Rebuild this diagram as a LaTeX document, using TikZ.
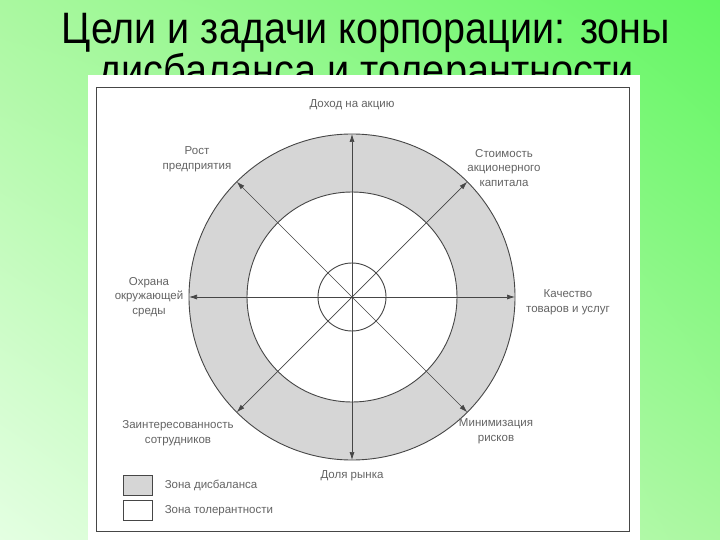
\documentclass[tikz,border=0pt]{standalone}
\usepackage{fontspec}
\setmainfont{Liberation Sans}
\usetikzlibrary{arrows.meta,positioning,shadings}
\definecolor{bgpale}{RGB}{228,255,226}
\definecolor{bgmid}{RGB}{170,248,160}
\definecolor{bgdeep}{RGB}{98,246,98}
\definecolor{zonegray}{RGB}{214,214,214}
\definecolor{inkgray}{RGB}{70,70,70}
\definecolor{textgray}{RGB}{100,100,100}
\tikzset{
  goal/.style={font=\fontsize{11.5}{14.5}\selectfont, text=textgray, align=center, inner sep=0pt},
  ring/.style={circle, draw=inkgray, line width=0.9pt, inner sep=0pt, outer sep=0pt},
  axis/.style={draw=inkgray, line width=0.7pt, {Latex[length=8pt,width=5pt]}-{Latex[length=8pt,width=5pt]}},
  keybox/.style={draw=inkgray, line width=0.6pt, minimum width=29pt, minimum height=20pt, inner sep=0pt, anchor=north west}
}
\begin{document}
\begin{tikzpicture}[x=1pt,y=-1pt]
	\useasboundingbox (0,0) rectangle (720,540);
	\shade[upper left=bgmid, upper right=bgdeep, lower left=bgpale, lower right=bgmid] (0,0) rectangle (720,540);
	% title
	\node[font=\fontsize{44}{48}\selectfont, anchor=base] (title1) at (366,44) {\resizebox{608pt}{\height}{Цели и задачи корпорации: зоны}};
	\node[font=\fontsize{44}{48}\selectfont, anchor=base] (title2) at (366,86) {\resizebox{535pt}{\height}{дисбаланса и толерантности}};
	% sheet
	\path[fill=white] (88,75) rectangle (640,540);
	\draw[inkgray, line width=0.6pt] (96,87) rectangle (629,531);
	\begin{scope}
		\node[ring, fill=zonegray, minimum size=326pt] (outer) at (352,297) {};
		\node[ring, fill=white, minimum size=210pt] (middle) at (352,297) {};
		\node[ring, minimum size=68pt] (inner) at (352,297) {};
		\foreach \a/\b in {0/180,45/225,90/270,135/315}
			\path[axis] (outer.\a) -- (outer.\b);
	\end{scope}
	\node[goal] (eps) at (352,105) {Доход на акцию};
	\node[goal] (growth) at (197,159) {Рост\\предприятия};
	\node[goal] (value) at (504,168) {Стоимость\\акционерного\\капитала};
	\node[goal] (env) at (149,297) {Охрана\\окружающей\\среды};
	\node[goal] (quality) at (568,302) {Качество\\товаров и услуг};
	\node[goal] (staff) at (178,433) {Заинтересованность\\сотрудников};
	\node[goal] (risk) at (496,431) {Минимизация\\рисков};
	\node[goal] (share) at (352,476) {Доля рынка};
	% legend
	\node[keybox, fill=zonegray] (keyimb) at (123,475) {};
	\node[keybox, fill=white] (keytol) at (123,500) {};
	\node[goal, right=12pt of keyimb] (keyimbtext) {Зона дисбаланса};
	\node[goal, right=12pt of keytol] (keytoltext) {Зона толерантности};
\end{tikzpicture}
\end{document}
